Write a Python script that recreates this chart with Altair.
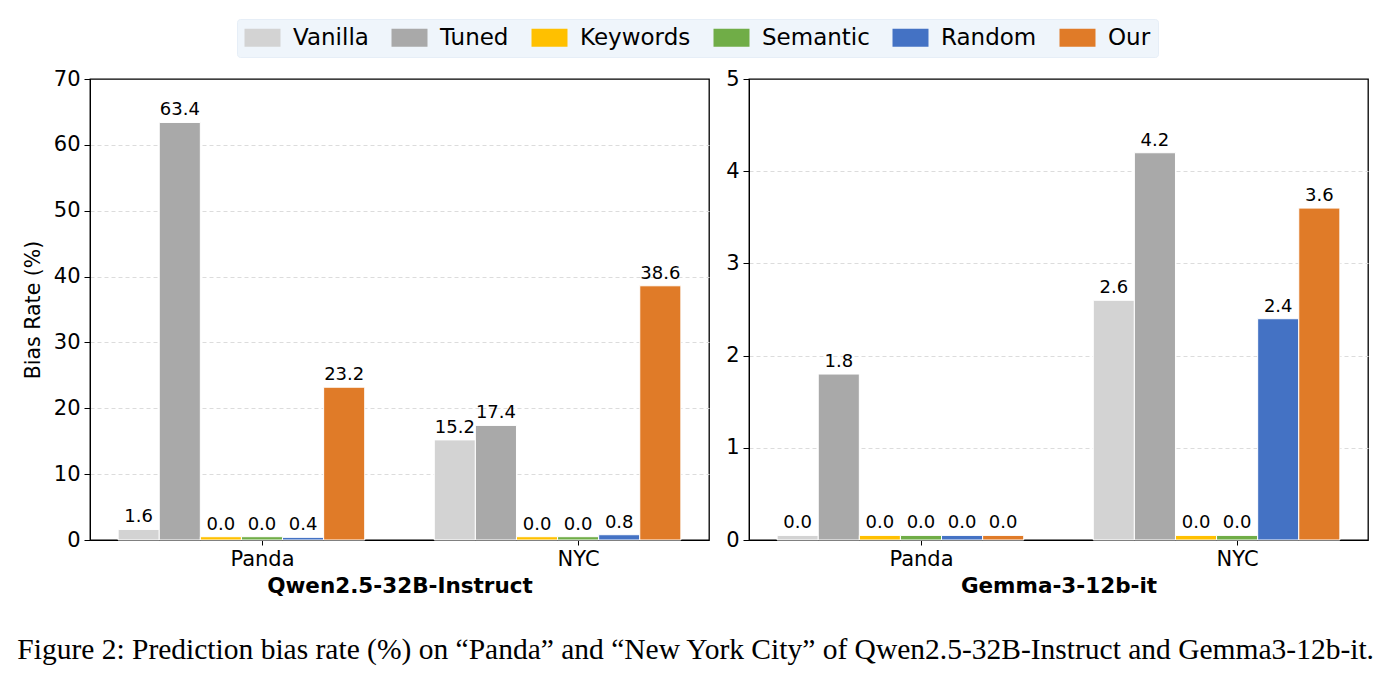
import altair as alt
import pandas as pd

# ---- data ----
methods = ["Vanilla", "Tuned", "Keywords", "Semantic", "Random", "Our"]
colors = ["#d3d3d3", "#a9a9a9", "#ffc000", "#70ad47", "#4472c4", "#e07b28"]
locations = ["Panda", "NYC"]

qwen_panda = [1.6, 63.4, 0.0, 0.0, 0.4, 23.2]
qwen_nyc = [15.2, 17.4, 0.0, 0.0, 0.8, 38.6]
gemma_panda = [0.0, 1.8, 0.0, 0.0, 0.0, 0.0]
gemma_nyc = [2.6, 4.2, 0.0, 0.0, 2.4, 3.6]

models = ["Qwen2.5-32B-Instruct", "Gemma-3-12b-it"]
y_max = [70, 5]
y_step = [10, 1]
zero_bar = [0.5, 0.05]   # small visible stub drawn for zero values
bar_w = 0.13

caption = ("Figure 2: Prediction bias rate (%) on \u201cPanda\u201d and \u201cNew York City\u201d "
           "of Qwen2.5-32B-Instruct and Gemma3-12b-it.")


def make_df(panda, nyc, stub):
    rows = []
    for gi, (loc, vals) in enumerate(zip(locations, [panda, nyc])):
        for si, (m, v) in enumerate(zip(methods, vals)):
            rows.append({
                "loc": loc, "method": m, "order": si, "value": v,
                "shown": v if v > 0 else stub,
                "x0": gi + (si - 3.5) * bar_w,
                "x1": gi + (si - 2.5) * bar_w,
                "xc": gi + (si - 3) * bar_w,
                "label": f"{v:.1f}",
            })
    return pd.DataFrame(rows)


dfs = [make_df(qwen_panda, qwen_nyc, zero_bar[0]),
       make_df(gemma_panda, gemma_nyc, zero_bar[1])]

x_dom = [-0.455 - 0.089, 1.325 + 0.089]
label_expr = "datum.value == 0 ? 'Panda' : 'NYC'"

FONT = "DejaVu Sans"


def panel(i):
    df = dfs[i]
    xscale = alt.Scale(domain=x_dom, nice=False, zero=False)
    yscale = alt.Scale(domain=[0, y_max[i]], nice=False)
    ticks = list(range(0, y_max[i] + 1, y_step[i]))
    xaxis = alt.Axis(values=[0, 1], labelExpr=label_expr, title=models[i],
                     titleFontWeight="bold", titleFontSize=21.5, grid=False,
                     labelFontSize=21, titlePadding=6, tickSize=5, labelPadding=3)
    yaxis = alt.Axis(values=ticks, format="d",
                     title="Bias Rate (%)" if i == 0 else None,
                     labelFontSize=21, titleFontSize=20.5, titleFontWeight="normal",
                     grid=True, gridDash=[4, 3], gridColor="#dcdcdc", tickSize=6,
                     gridOpacity={"condition": {"test": f"datum.value >= {y_max[i]} || datum.value <= 0",
                                                "value": 0}, "value": 1},
                     labelPadding=4, titlePadding=10)
    bars = alt.Chart(df).mark_bar(stroke="white", strokeWidth=1).encode(
        x=alt.X("x0:Q", scale=xscale, axis=xaxis),
        x2="x1:Q",
        y=alt.Y("shown:Q", scale=yscale, axis=yaxis),
        y2=alt.datum(0),
        color=alt.Color("method:N", scale=alt.Scale(domain=methods, range=colors),
                        sort=methods, legend=alt.Legend(title=None)),
    )
    text = alt.Chart(df).mark_text(baseline="alphabetic", dy=-7, fontSize=18,
                                   font=FONT, color="black").encode(
        x=alt.X("xc:Q", scale=xscale),
        y=alt.Y("shown:Q", scale=yscale),
        text="label:N",
    )
    return alt.layer(bars, text).properties(width=619, height=461)


chart = alt.hconcat(panel(0), panel(1), spacing=40, bounds="flush").properties(
    title=alt.TitleParams(caption, orient="bottom", font="Liberation Serif",
                          fontSize=29.5, fontWeight="normal", color="black",
                          anchor="middle", offset=39),
    padding={"left": 16, "top": 18, "right": 10, "bottom": 5},
).configure(font=FONT).configure_view(
    stroke="black", strokeWidth=1.3
).configure_axis(
    labelColor="black", titleColor="black", domainColor="black",
    tickColor="black", labelFont=FONT, titleFont=FONT
).configure_legend(
    orient="none", direction="horizontal", legendX=147, legendY=-60,
    fillColor="#eff5fb", strokeColor="#e6eef7", padding=7,
    symbolType="M-1.636,-0.818H1.636V0.818H-1.636Z", symbolSize=484,
    symbolStrokeWidth=0, symbolOffset=7,
    labelFontSize=23, labelFont=FONT, labelColor="black", columnPadding=22,
    labelOffset=19, cornerRadius=3
)

chart.save("out.html", embed_options={"renderer": "svg", "actions": False})
